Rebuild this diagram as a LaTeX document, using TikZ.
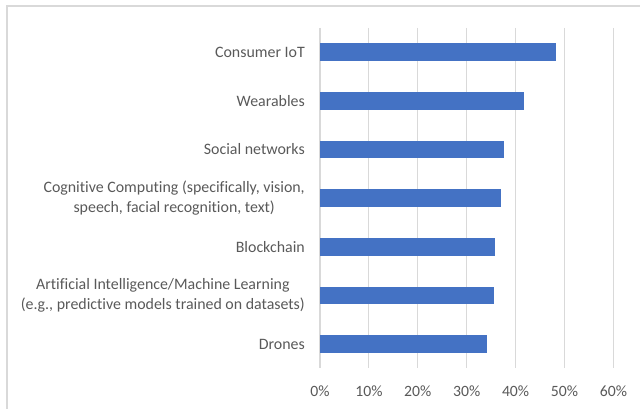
\documentclass[tikz,border=0pt]{standalone}
\usepackage{fontspec}
\setmainfont{Carlito}[Ligatures=NoCommon]
\definecolor{barblue}{HTML}{4472C4}
\definecolor{gridgray}{HTML}{D9D9D9}
\definecolor{labelgray}{HTML}{595959}
\tikzset{
  bar/.style={fill=barblue, draw=none},
  gridline/.style={draw=gridgray, line width=1.1pt},
  catlabel/.style={anchor=east, align=center, inner sep=0pt, text=labelgray, font=\fontsize{15.9}{20}\selectfont},
  ticklabel/.style={inner sep=0pt, text=labelgray, font=\fontsize{15.7}{20}\selectfont},
}
\begin{document}
\begin{tikzpicture}[x=1pt, y=-1pt]
                \useasboundingbox (0,0) rectangle (640,409);
                % Chart Frame
                \draw[gridline, line width=2pt] (6.5,409) -- (6.5,6.5) -- (640,6.5);

                % Grid
                \draw[gridline] (320,28) -- (320,368); % 0%
                \draw[gridline] (368.9,28) -- (368.9,368);
                \draw[gridline] (417.8,28) -- (417.8,368);
                \draw[gridline] (466.7,28) -- (466.7,368);
                \draw[gridline] (515.6,28) -- (515.6,368);
                \draw[gridline] (564.5,28) -- (564.5,368);
                \draw[gridline] (613.4,28) -- (613.4,368);

                % Bars
                \draw[bar] (320,43.4) rectangle (555.7,61.0); % Consumer IoT
                \draw[bar] (320,92.1) rectangle (523.9,109.7); % Wearables
                \draw[bar] (320,140.7) rectangle (504.4,158.3); % Social networks
                \draw[bar] (320,189.4) rectangle (500.9,207.0); % Cognitive
                \draw[bar] (320,238.0) rectangle (495.1,255.6); % Blockchain
                \draw[bar] (320,286.7) rectangle (494.1,304.3); % AI/ML
                \draw[bar] (320,335.3) rectangle (487.2,352.9); % Drones

                % Categories
                \node[catlabel] (iot) at (305,52.2) {Consumer IoT};
                \node[catlabel] (wear) at (305,100.9) {Wearables};
                \node[catlabel] (social) at (305,149.5) {Social networks};
                \node[catlabel] (cog) at (305,198.2) {Cognitive Computing (specifically, vision,\\speech, facial recognition, text)};
                \node[catlabel] (chain) at (305,246.8) {Blockchain};
                \node[catlabel] (aiml) at (305,295.5) {Artificial Intelligence/Machine Learning\\(e.g., predictive models trained on datasets)};
                \node[catlabel] (drones) at (305,344.1) {Drones};

                % Axis
                \node[ticklabel] (t0) at (320,391) {0\%};
                \node[ticklabel] (t10) at (368.9,391) {10\%};
                \node[ticklabel] (t20) at (417.8,391) {20\%};
                \node[ticklabel] (t30) at (466.7,391) {30\%};
                \node[ticklabel] (t40) at (515.6,391) {40\%};
                \node[ticklabel] (t50) at (564.5,391) {50\%};
                \node[ticklabel] (t60) at (613.4,391) {60\%};
\end{tikzpicture}
\end{document}
